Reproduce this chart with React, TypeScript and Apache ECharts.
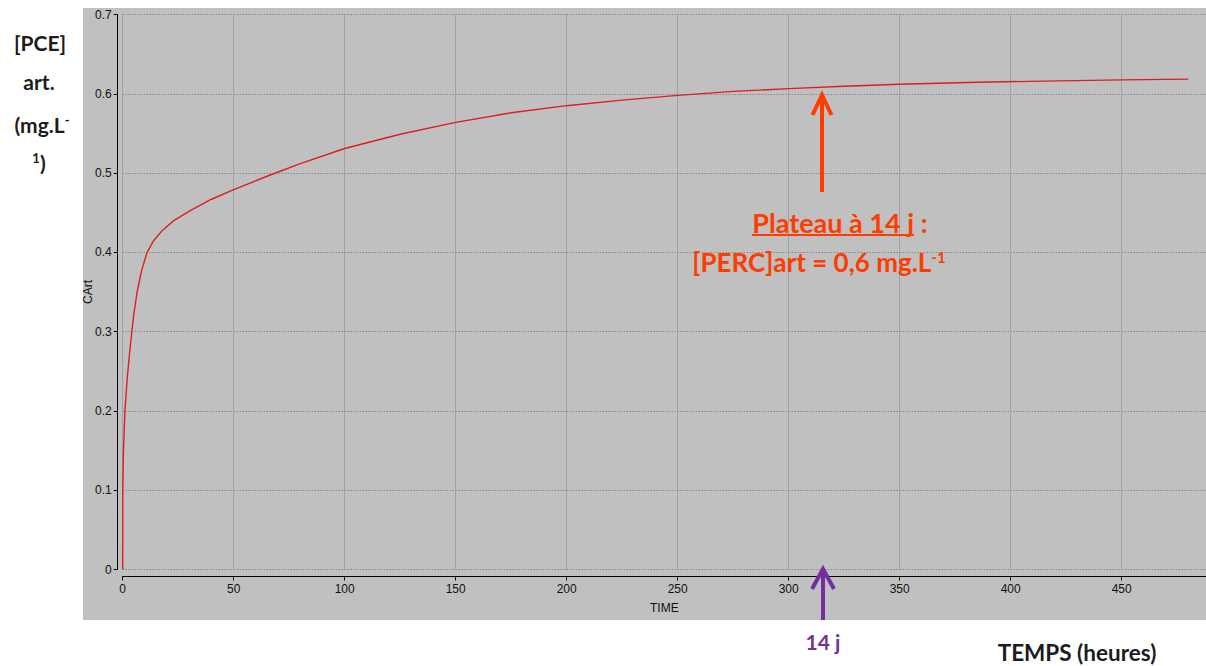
import React, { useEffect, useRef } from "react";
import * as echarts from "echarts";

// Time (hours) and arterial PCE concentration (mg/L)
const timeHours = [0, 0.05, 0.3, 1, 2, 3, 4, 5, 6.5, 8.5, 11, 14, 18, 23, 30, 40, 50, 65, 80, 100, 125, 150, 175, 200, 225, 250, 275, 300, 325, 350, 385, 415, 450, 480];
const cArt = [0, 0.1, 0.147, 0.2, 0.24, 0.27, 0.297, 0.322, 0.35, 0.377, 0.4, 0.415, 0.428, 0.44, 0.452, 0.467, 0.479, 0.496, 0.512, 0.531, 0.549, 0.564, 0.576, 0.585, 0.592, 0.598, 0.603, 0.6065, 0.6095, 0.612, 0.6145, 0.616, 0.6175, 0.6185];

const xRange = [0, 488];
const xStep = 50;
const yRange = [0, 0.7];
const yStep = 0.1;

const xAxisTitle = "TIME";
const yAxisTitle = "CArt";
const plateauTitle = "Plateau à 14 j :";
const plateauValue = "[PERC]art = 0,6 mg.L";
const plateauMarkerLabel = "14 j";
const timeTitle = "TEMPS (heures)";

export default function App() {
  const ref = useRef<HTMLDivElement>(null);

  useEffect(() => {
    if (!ref.current) return;
    const chart = echarts.init(ref.current, null, { renderer: "svg" });
    const axisFont = "'Liberation Sans Narrow', 'Liberation Sans', Arial, sans-serif";
    const noteFont = "Lato, 'Open Sans', 'Noto Sans', sans-serif";
    const red = "#ff3c00";
    const purple = "#7030a0";
    const ink = "#1c1c1c";

    chart.setOption({
      animation: false,
      backgroundColor: "#ffffff",
      grid: { left: 122.7, top: 14.5, right: 0, bottom: 96.5, containLabel: false },
      xAxis: {
        type: "value",
        min: xRange[0],
        max: xRange[1],
        interval: xStep,
        offset: 7,
        name: xAxisTitle,
        nameLocation: "middle",
        nameGap: 25,
        nameMoveOverlap: false,
        nameTextStyle: { fontFamily: axisFont, fontSize: 12, color: "#111" },
        axisLine: { show: true, onZero: false, lineStyle: { color: "#000", width: 1 } },
        axisTick: { show: true, length: 4, lineStyle: { color: "#000", width: 1 } },
        axisLabel: { margin: 6, fontFamily: axisFont, fontSize: 12, color: "#111", showMaxLabel: false },
        splitLine: { show: true, lineStyle: { color: "#a2a2a2", width: 1 } },
      },
      yAxis: {
        type: "value",
        min: yRange[0],
        max: yRange[1],
        interval: yStep,
        offset: 5,
        name: yAxisTitle,
        nameLocation: "middle",
        nameGap: 24,
        nameMoveOverlap: false,
        nameTextStyle: { fontFamily: axisFont, fontSize: 12, color: "#111" },
        axisLine: { show: true, onZero: false, lineStyle: { color: "#000", width: 1 } },
        axisTick: { show: true, length: 4, lineStyle: { color: "#000", width: 1 } },
        axisLabel: { margin: 6, fontFamily: axisFont, fontSize: 12, color: "#111" },
        splitLine: { show: true, lineStyle: { color: "#6e6e6e", width: 1, type: [1, 2] } },
      },
      series: [
        {
          type: "line",
          data: timeHours.map((t, i) => [t, cArt[i]]),
          showSymbol: false,
          smooth: false,
          lineStyle: { color: "#dc1e1e", width: 1.4 },
          z: 3,
        },
      ],
      graphic: [
        {
          type: "rect",
          z: -10,
          shape: { x: 83, y: 8, width: 1123, height: 612 },
          style: { fill: "#c0c0c0" },
          silent: true,
        },
        // left axis title
        {
          type: "text", z: 100,
          style: { text: "[PCE]", x: 40, y: 42, align: "center", verticalAlign: "middle", fill: ink, fontFamily: noteFont, fontWeight: "bold", fontSize: 21 },
        },
        {
          type: "text", z: 100,
          style: { text: "art.", x: 39, y: 81, align: "center", verticalAlign: "middle", fill: ink, fontFamily: noteFont, fontWeight: "bold", fontSize: 21 },
        },
        {
          type: "text", z: 100,
          style: {
            text: "{m|(mg.L}{s|-}", x: 42, y: 124, align: "center", verticalAlign: "middle", fill: ink,
            rich: {
              m: { fontFamily: noteFont, fontWeight: "bold", fontSize: 21, fill: ink },
              s: { fontFamily: noteFont, fontWeight: "bold", fontSize: 13, fill: ink, verticalAlign: "top" },
            },
          },
        },
        {
          type: "text", z: 100,
          style: {
            text: "{s|1}{m|)}", x: 39, y: 162, align: "center", verticalAlign: "middle", fill: ink,
            rich: {
              m: { fontFamily: noteFont, fontWeight: "bold", fontSize: 21, fill: ink },
              s: { fontFamily: noteFont, fontWeight: "bold", fontSize: 13, fill: ink, verticalAlign: "top" },
            },
          },
        },
        // red plateau arrow
        {
          type: "line", z: 100,
          shape: { x1: 822, y1: 97, x2: 822, y2: 192 },
          style: { stroke: red, lineWidth: 4 },
        },
        {
          type: "polyline", z: 100,
          shape: { points: [[812.5, 115], [822, 95], [831.5, 115]] },
          style: { stroke: red, lineWidth: 4, fill: null, lineJoin: "miter" },
        },
        {
          type: "text", z: 100,
          style: { text: plateauTitle, x: 840, y: 222, align: "center", verticalAlign: "middle", fill: red, fontFamily: noteFont, fontWeight: "bold", fontSize: 27 },
        },
        {
          type: "line", z: 100,
          shape: { x1: 752, y1: 235, x2: 914, y2: 235 },
          style: { stroke: red, lineWidth: 2 },
        },
        {
          type: "text", z: 100,
          style: {
            text: "{m|" + plateauValue + "}{s|-1}", x: 819, y: 262, align: "center", verticalAlign: "middle", fill: red,
            rich: {
              m: { fontFamily: noteFont, fontWeight: "bold", fontSize: 26, fill: red },
              s: { fontFamily: noteFont, fontWeight: "bold", fontSize: 15, fill: red, verticalAlign: "top" },
            },
          },
        },
        // purple 14 j arrow
        {
          type: "line", z: 100,
          shape: { x1: 823, y1: 572, x2: 823, y2: 620 },
          style: { stroke: purple, lineWidth: 4 },
        },
        {
          type: "polyline", z: 100,
          shape: { points: [[812, 589], [823, 569], [834, 589]] },
          style: { stroke: purple, lineWidth: 4, fill: null, lineJoin: "miter" },
        },
        {
          type: "text", z: 100,
          style: { text: plateauMarkerLabel, x: 823, y: 641, align: "center", verticalAlign: "middle", fill: purple, fontFamily: noteFont, fontWeight: "bold", fontSize: 21 },
        },
        {
          type: "text", z: 100,
          style: { text: timeTitle, x: 1077, y: 652, align: "center", verticalAlign: "middle", fill: ink, fontFamily: noteFont, fontWeight: "bold", fontSize: 22.5 },
        },
      ],
    });

    return () => chart.dispose();
  }, []);

  return <div ref={ref} style={{ position: "absolute", left: 0, top: 0, width: 1206, height: 666 }} />;
}
